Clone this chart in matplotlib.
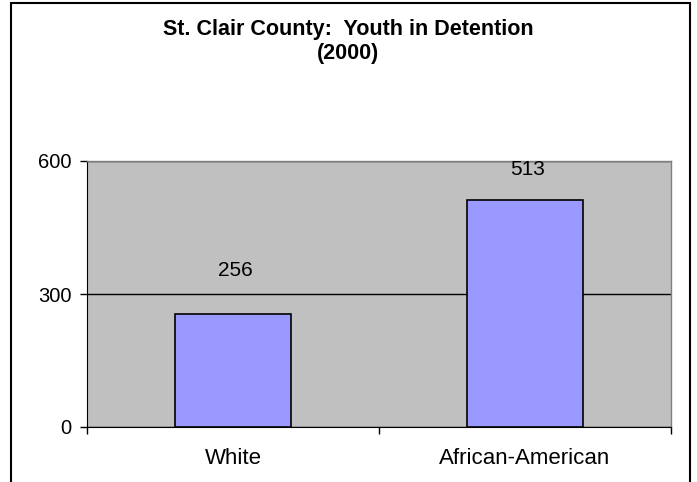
import matplotlib.pyplot as plt
from matplotlib.patches import Rectangle

# data
categories = ['White', 'African-American']
values = [256, 513]
yticks = [0, 300, 600]
title_lines = ['St. Clair County:  Youth in Detention', '(2000)']

# value label offsets (points) as placed in the original
label_dy = [31, 21.5]

plt.rcParams['font.family'] = ['Liberation Sans', 'DejaVu Sans']

fig = plt.figure(figsize=(6.97, 4.82), dpi=100)
ax = fig.add_axes([87 / 697, 55 / 482, 584 / 697, 266 / 482])
ax.set_facecolor('#C0C0C0')

x = list(range(len(categories)))
bars = ax.bar(x, values, width=0.4, color='#9999FF', edgecolor='black', linewidth=1.2, zorder=3)
for b, v, dy in zip(bars, values, label_dy):
    ax.annotate(str(v), (b.get_x() + b.get_width() / 2, v), xytext=(2, dy),
                textcoords='offset points', ha='center', va='center', fontsize=15)

ax.set_xlim(-0.5, len(categories) - 0.5)
ax.set_ylim(0, 600)
ax.set_yticks(yticks)
ax.tick_params(axis='y', direction='out', length=5, labelsize=14.5, width=1, pad=6)
ax.yaxis.grid(True, color='black', linewidth=1, zorder=1)
ax.set_axisbelow(True)

ax.set_xticks(x)
ax.set_xticklabels(categories, fontsize=16)
ax.tick_params(axis='x', length=0, pad=15)
ax.set_xticks([i - 0.5 for i in range(len(categories) + 1)], minor=True)
ax.tick_params(axis='x', which='minor', direction='out', length=5, width=1)

for s in ['top', 'right']:
    ax.spines[s].set_color('#808080')
    ax.spines[s].set_linewidth(1)
ax.spines['left'].set_color('black')
ax.spines['bottom'].set_color('black')

fig.text(0.5, 1 - 30 / 482, title_lines[0], ha='center', va='center',
         fontsize=15.5, fontweight='bold')
fig.text(0.5, 1 - 53 / 482, title_lines[1], ha='center', va='center',
         fontsize=15.5, fontweight='bold')

# outer chart frame
fig.patches.append(Rectangle((11 / 697, -0.02), 679 / 697, 1.02 - 3.5 / 482, transform=fig.transFigure,
                             fill=False, edgecolor='black', linewidth=1.5))

fig.savefig('out.png', dpi=100)
